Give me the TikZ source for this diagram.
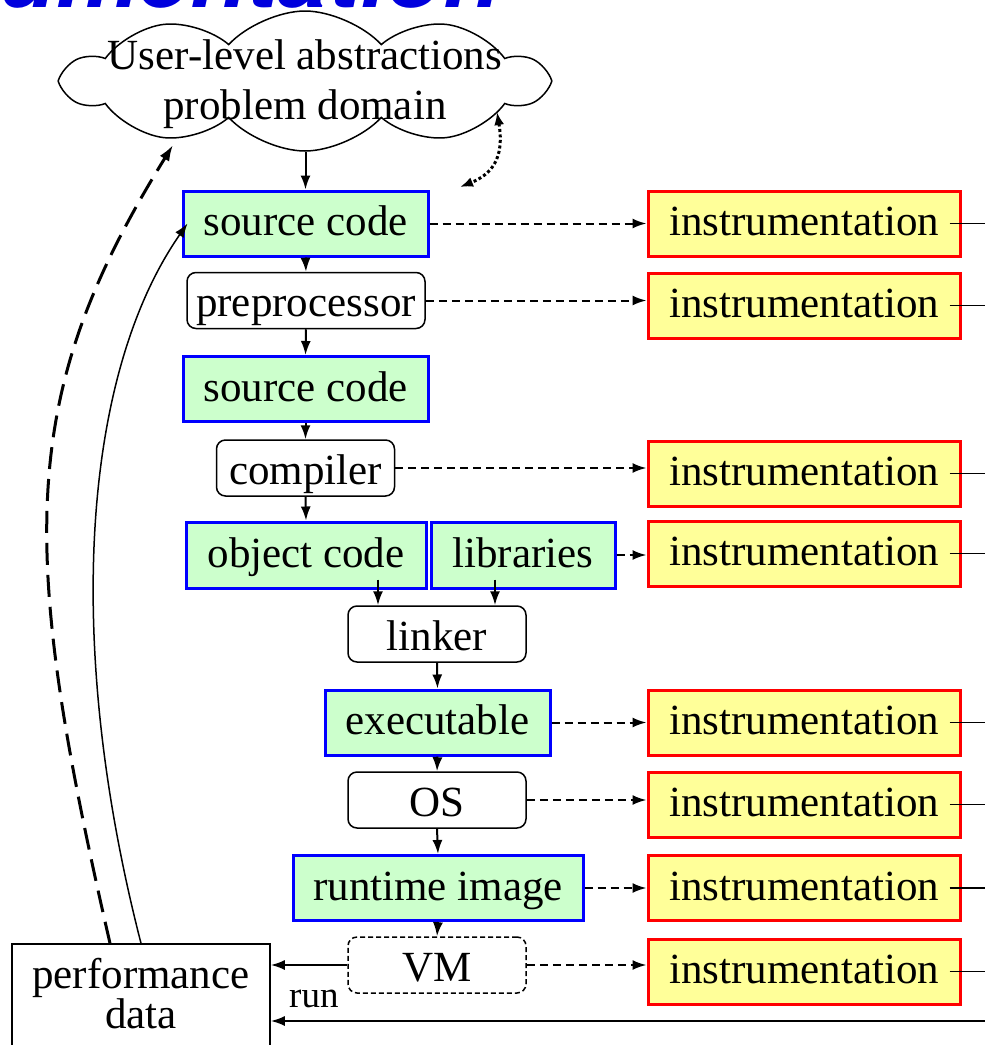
\documentclass[tikz,border=0pt]{standalone}
\usepackage{fontspec}
\setmainfont{Liberation Serif}
\newfontfamily\titlefont{TeX Gyre Heros}
\usetikzlibrary{calc, arrows.meta, shapes.symbols}
\definecolor{codegreen}{RGB}{204, 255, 204}
\definecolor{instryellow}{RGB}{255, 255, 153}
\definecolor{titleblue}{RGB}{0, 0, 221}

\begin{document}
\begin{tikzpicture}[x=1pt, y=-1pt,
  every node/.style={font=\fontsize{43}{40}\selectfont, inner sep=0pt},
  code/.style={draw=blue, line width=3pt, fill=codegreen, minimum height=65pt, text height=33pt, text depth=9pt},
  tool/.style={draw, rounded corners=9pt, line width=1.5pt, fill=white, minimum width=178pt, minimum height=56pt, text height=41pt, text depth=9pt},
  instr/.style={draw=red, line width=3pt, fill=instryellow, minimum width=312pt, minimum height=65pt, text height=33pt, text depth=9pt},
  flow/.style={line width=2pt, -{Latex[length=14pt, width=10pt]}},
  probe/.style={flow, dash pattern=on 8pt off 5pt}]
  \useasboundingbox (0,0) rectangle (985,1045);

  % --- title (cut off at the top) ---
  \node[font=\fontsize{93}{93}\titlefont\bfseries\itshape\selectfont, text=titleblue, anchor=base east] (title) at (500,7) {Instrumentation};

  % --- problem domain ---
  \node[cloud, draw, line width=1.5pt, cloud puffs=10, cloud puff arc=95, cloud ignores aspect,
        minimum width=480pt, minimum height=140pt,
        label={[align=center, font=\fontsize{43}{50}\selectfont, yshift=-3pt]center:User-level abstractions\\problem domain}] (domain) at (305,81) {};

  % --- tool chain ---
  \node[code, minimum width=245pt] (src1) at (305.5,223.5) {source code};
  \node[tool, minimum width=238pt] (pre) at (306,300.5) {preprocessor};
  \node[code, minimum width=245pt] (src2) at (305.5,389) {source code};
  \node[tool] (comp) at (305.5,468) {compiler};
  \node[code, minimum width=240pt, minimum height=66pt] (obj) at (306,555) {object code};
  \node[code, minimum width=184pt, minimum height=66pt] (lib) at (523,555) {libraries};
  \node[tool] (link) at (437,634) {linker};
  \node[code, minimum width=225pt] (exe) at (437.5,722.5) {executable};
  \node[tool] (os) at (437,800) {OS};
  \node[code, minimum width=290pt] (rt) at (438,888) {runtime image};
  \node[tool, dash pattern=on 5pt off 3pt] (vm) at (437,965) {VM};
  \node[draw, line width=1.5pt, fill=white, minimum width=258pt, minimum height=104pt, text depth=6pt, align=center] (perf) at (141,996) {performance\\data};

  % --- instrumentation points ---
  \foreach \n/\y in {1/223.5, 2/305.5, 3/473.5, 4/553.5, 5/722.5, 6/804.5, 7/888, 8/971.5} {
    \node[instr] (i\n) at (804,\y) {instrumentation};
    \coordinate (e\n) at (990,\y);
    \draw[line width=1.5pt] ([xshift=-12pt]i\n.east) -- (e\n);
  }

  % --- flow down the chain ---
  \draw[flow] (src1.north |- domain.south) -- (src1.north);
  \draw[flow] (src1.south) -- (pre.north);
  \draw[flow] (pre.south) -- (src2.north);
  \draw[flow] (src2.south) -- (comp.north);
  \draw[flow] (comp.south) -- (obj.north);
  \draw[flow] ([xshift=72pt, yshift=10pt]obj.south) -- ([xshift=72pt]obj.south |- link.north);
  \draw[flow] ([xshift=-28pt, yshift=10pt]lib.south) -- ([xshift=-28pt]lib.south |- link.north);
  \draw[flow] (link.south) -- (exe.north);
  \draw[flow] (exe.south) -- (os.north);
  \draw[flow] (os.south) -- (rt.north);
  \draw[flow] (rt.south) -- (vm.north);

  % --- probes ---
  \draw[probe] (src1.east) -- (src1.east -| i1.west);
  \draw[probe] (pre.east) -- (pre.east -| i2.west);
  \draw[probe] (comp.east) -- (comp.east -| i3.west);
  \draw[probe] (lib.east) -- (lib.east -| i4.west);
  \draw[probe] (exe.east) -- (exe.east -| i5.west);
  \draw[probe] (os.east) -- (os.east -| i6.west);
  \draw[probe] (rt.east) -- (rt.east -| i7.west);
  \draw[probe] (vm.east) -- (vm.east -| i8.west);

  % --- measurement results ---
  \draw[flow] (vm.west) -- (vm.west -| perf.east);
  \coordinate (ebot) at (990,1021);
  \draw[flow] (ebot) -- (ebot -| perf.east)
    node[pos=0.94, above=12pt, font=\fontsize{37}{37}\selectfont] (run) {run};

  % --- feedback ---
  \coordinate (fbtip) at (173,145);
  \draw[line width=3pt, dash pattern=on 22pt off 10pt, -{Latex[length=16pt, width=11pt]}]
    ([xshift=-31pt]perf.north) .. controls (18,544) and (18,395) .. (fbtip);
  \draw[flow, line width=1.5pt] (perf.north) .. controls (64,644) and (82,375) .. ([xshift=6pt]src1.west);
  \coordinate (dtop) at (497,112);
  \coordinate (dbot) at (460,187);
  \draw[line width=3pt, dash pattern=on 3pt off 2.5pt, {Latex[length=13pt, width=10pt]}-{Latex[length=13pt, width=10pt]}]
    (dtop) .. controls (505,160) and (490,175) .. (dbot);
\end{tikzpicture}
\end{document}
